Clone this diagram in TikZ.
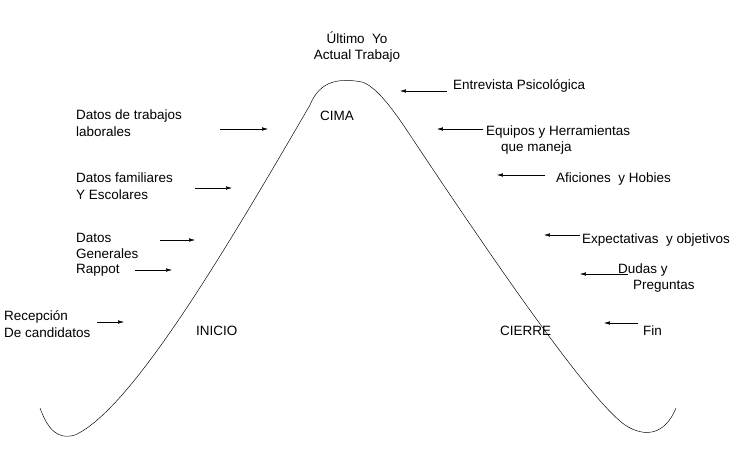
\documentclass[tikz,border=0pt]{standalone}
\usepackage{fontspec}
\setmainfont{Liberation Sans}
\usetikzlibrary{arrows.meta}
\tikzset{lbl/.style={anchor=west,inner sep=0pt,align=left,font=\fontsize{11.5}{14}\selectfont},
  pt/.style={-{Latex[length=5pt,width=3pt]}}}
\begin{document}
\begin{tikzpicture}[x=0.03cm,y=-0.03cm]

  \useasboundingbox (0,0) rectangle (736,460);

  \draw[] (40,408) .. controls (48,430) and (58,440) .. (75,435)
    .. controls (130,410) and (220,260) .. (310,105)
    .. controls (320,80) and (340,78) .. (362,82)
    .. controls (380,88) and (400,120) .. (420,150)
    .. controls (500,270) and (590,400) .. (625,425)
    .. controls (645,438) and (665,435) .. (676,408);

  \node[anchor=center,align=center,font=\fontsize{11.5}{14}\selectfont] (top) at (357,47) {Último~ Yo\\Actual Trabajo};
  \node[lbl] (cima) at (320,116) {CIMA};
  \node[lbl] (inicio) at (196,331) {INICIO};
  \node[lbl] (cierre) at (500,331) {CIERRE};

  \node[lbl] (trab) at (76,123) {Datos de trabajos\\laborales};
  \node[lbl] (fam) at (76,186) {Datos familiares\\Y Escolares};
  \node[lbl] (gen) at (76,246) {Datos\\Generales};
  \node[lbl] (rap) at (76,270) {Rappot};
  \node[lbl] (rec) at (4,324) {Recepción\\De candidatos};

  \node[lbl] (entr) at (453,86) {Entrevista Psicológica};
  \node[lbl] (equi) at (486,140) {Equipos y Herramientas\\\ \ \ \ que maneja};
  \node[lbl] (afic) at (556,179) {Aficiones~ y Hobies};
  \node[lbl] (expe) at (582,240) {Expectativas~ y objetivos};
  \node[lbl] (duda) at (618,278) {Dudas y\\\ \ \ \ Preguntas};
  \node[lbl] (fin) at (643,331) {Fin};

  \draw[pt] (220,129) -- (268,129);
  \draw[pt] (195,188) -- (232,188);
  \draw[pt] (160,240) -- (195,240);
  \draw[pt] (135,270) -- (172,270);
  \draw[pt] (97,322) -- (124,322);

  \draw[pt] (447,91) -- (400,91);
  \draw[pt] (483,129) -- (437,129);
  \draw[pt] (545,175) -- (497,175);
  \draw[pt] (580,235) -- (544,235);
  \draw[pt] (628,274) -- (580,274);
  \draw[pt] (638,323) -- (604,323);

\end{tikzpicture}
\end{document}
